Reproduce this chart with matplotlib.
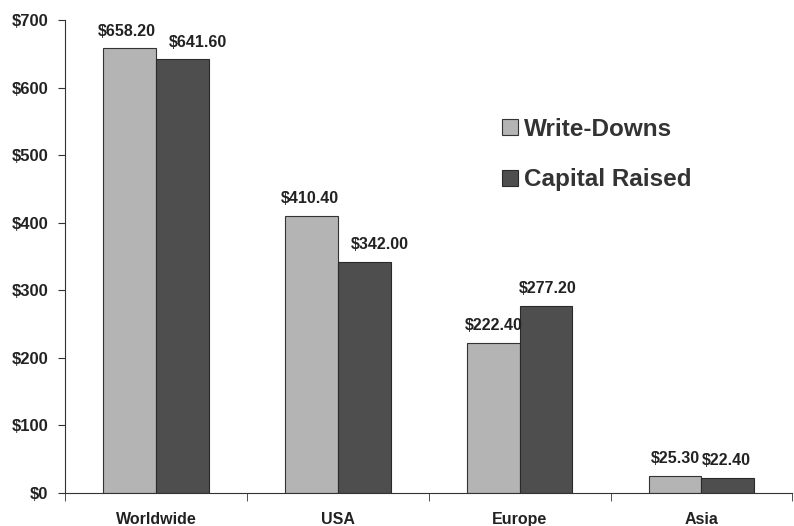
import matplotlib
matplotlib.use("Agg")
import matplotlib.pyplot as plt
import numpy as np

categories = ["Worldwide", "USA", "Europe", "Asia"]
write_downs = [658.20, 410.40, 222.40, 25.30]
capital_raised = [641.60, 342.00, 277.20, 22.40]
yticks = [0, 100, 200, 300, 400, 500, 600, 700]

# horizontal nudges (points) of value labels, as placed in the original
wd_label_dx = [-2, -1, 0, 0]
cr_label_dx = [11, 11, 1, -1]

plt.rcParams['font.family'] = ['Liberation Sans', 'DejaVu Sans']

fig = plt.figure(figsize=(7.94, 5.26), dpi=100)
ax = fig.add_axes([0.082, 0.063, 0.916, 0.899])

x = np.arange(len(categories))
w = 0.29
b1 = ax.bar(x - w/2, write_downs, w, color="#b4b4b4", edgecolor="#333333", linewidth=0.8, label="Write-Downs")
b2 = ax.bar(x + w/2, capital_raised, w, color="#4e4e4e", edgecolor="#2a2a2a", linewidth=0.8, label="Capital Raised")

for rect, v, dx in zip(b1, write_downs, wd_label_dx):
    ax.annotate(f"${v:.2f}", (rect.get_x() + rect.get_width()/2, v), xytext=(dx, 7),
                textcoords="offset points", ha="center", va="bottom", fontsize=11.5,
                fontweight="bold", color="#222222")
for rect, v, dx in zip(b2, capital_raised, cr_label_dx):
    ax.annotate(f"${v:.2f}", (rect.get_x() + rect.get_width()/2, v), xytext=(dx, 7),
                textcoords="offset points", ha="center", va="bottom", fontsize=11.5,
                fontweight="bold", color="#222222")

ax.set_xlim(-0.5, 3.5)
ax.set_ylim(0, 700)
ax.set_yticks(yticks)
ax.set_yticklabels([f"${t}" for t in yticks], fontsize=12, fontweight="bold", color="#222222")
ax.set_xticks(x)
ax.set_xticklabels(categories, fontsize=11.5, fontweight="bold", color="#222222")
ax.tick_params(axis="x", length=0, pad=13.5)
ax.set_xticks(np.arange(-0.5, 3.6, 1.0), minor=True)
ax.tick_params(axis="x", which="minor", length=6, direction="out", color="#333333")
ax.tick_params(axis="y", length=5, direction="out", color="#333333", pad=7)

for s in ["top", "right"]:
    ax.spines[s].set_visible(False)
ax.spines["left"].set_color("#333333")
ax.spines["bottom"].set_color("#333333")

leg = ax.legend(loc="upper left", bbox_to_anchor=(0.571, 0.84), frameon=False,
                prop={"size": 17.5, "weight": "bold"}, handlelength=0.65, handleheight=0.65,
                handletextpad=0.25, labelspacing=1.15)
for t in leg.get_texts():
    t.set_color("#333333")

fig.savefig("out.png", dpi=100)
